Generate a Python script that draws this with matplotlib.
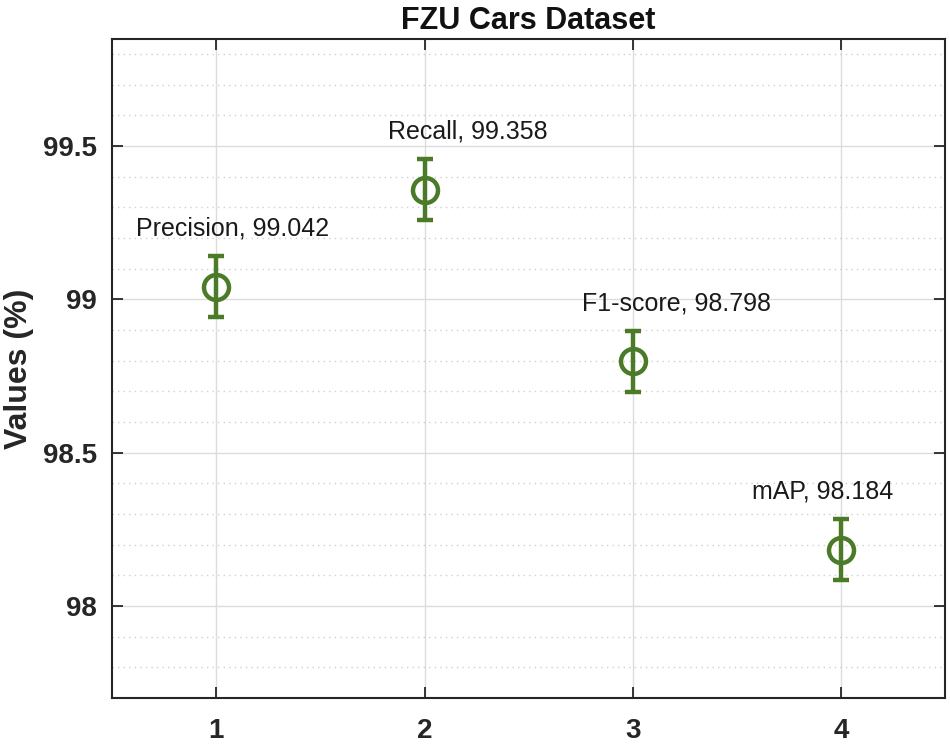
import numpy as np
import matplotlib
matplotlib.use('Agg')
import matplotlib.pyplot as plt
from matplotlib.ticker import MultipleLocator, FuncFormatter

# data
idx = [1, 2, 3, 4]
names = ["Precision", "Recall", "F1-score", "mAP"]
values = [99.042, 99.358, 98.798, 98.184]
errs = [0.1, 0.1, 0.1, 0.1]
lab_dx = [0.08, 0.21, 0.21, -0.09]   # label shift in x (data units)

plt.rcParams['font.family'] = ['Liberation Sans', 'DejaVu Sans']
green = '#4b7a28'

fig = plt.figure(figsize=(9.5, 7.45), dpi=100)
ax = fig.add_axes([0.118, 0.063, 0.877, 0.885])

ax.errorbar(idx, values, yerr=errs, fmt='o', color=green, mfc='none',
            mec=green, ms=18, mew=3.2, elinewidth=3.2, capsize=5.5, capthick=3.2)

for x, y, n, dx in zip(idx, values, names, lab_dx):
    ax.text(x + dx, y + 0.19, f"{n}, {y:.3f}", ha='center', va='center',
            fontsize=18, color='#1a1a1a')

ax.set_xlim(0.5, 4.5)
ax.set_ylim(97.7, 99.85)
ax.set_xticks(idx)
ax.yaxis.set_major_locator(MultipleLocator(0.5))
ax.yaxis.set_minor_locator(MultipleLocator(0.1))
ax.yaxis.set_major_formatter(FuncFormatter(lambda v, p: f"{v:g}"))

ax.grid(True, which='major', color='#dcdcdc', lw=1)
ax.grid(True, which='minor', axis='y', color='#d0d0d0', lw=1, ls=(0, (1, 3)))
ax.set_axisbelow(True)

ax.tick_params(which='major', direction='in', length=8, width=1.3, top=True, right=True,
               labelsize=20, colors='#262626')
ax.tick_params(axis='y', pad=11)
ax.tick_params(axis='x', pad=14)
ax.tick_params(which='minor', length=0)
for lab in ax.get_xticklabels() + ax.get_yticklabels():
    lab.set_fontweight('bold')
for s in ax.spines.values():
    s.set_linewidth(1.5)
    s.set_color('#262626')

ax.set_ylabel("Values (%)", fontsize=23, fontweight='bold', color='#262626', labelpad=6)
ax.set_title("FZU Cars Dataset", fontsize=22, fontweight='bold', color='#111111', pad=7)

fig.savefig("out.png", dpi=100)
